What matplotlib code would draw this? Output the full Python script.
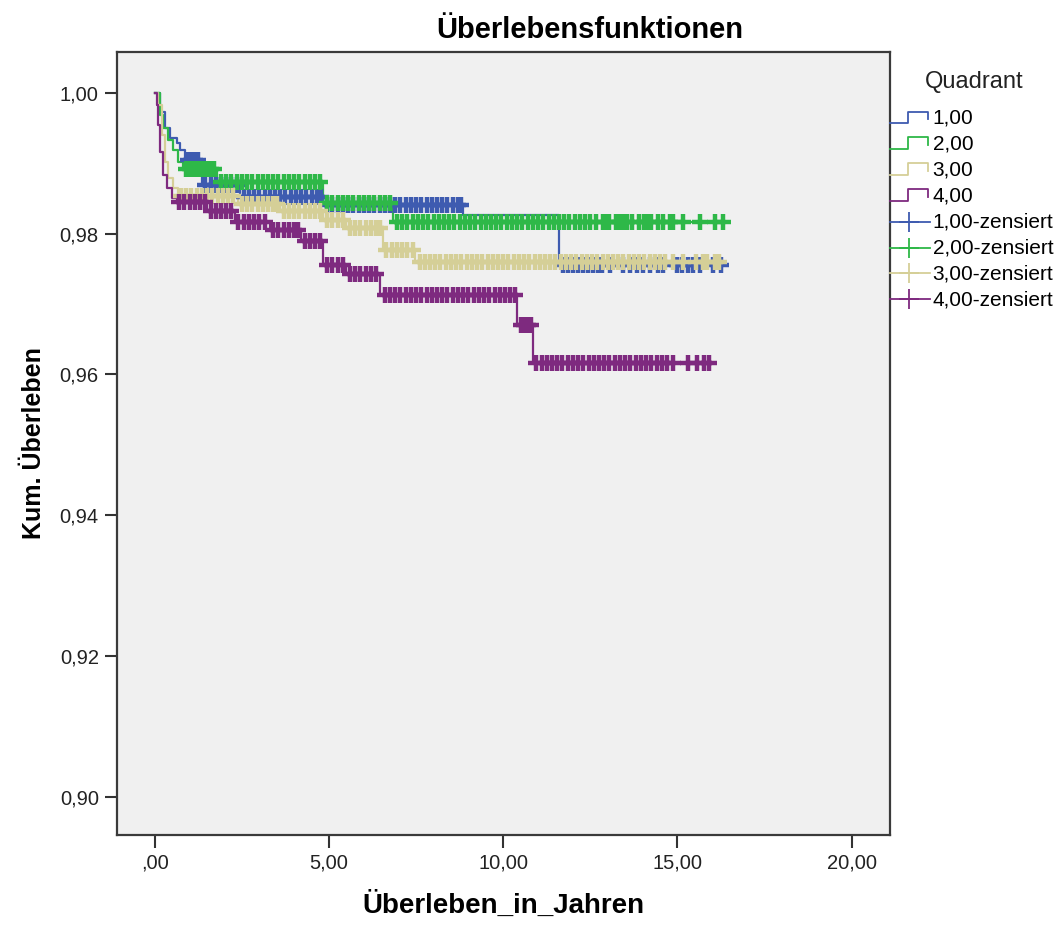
"""Kaplan-Meier Überlebensfunktionen nach Quadrant"""
import numpy as np
import matplotlib
matplotlib.use("Agg")
import matplotlib.pyplot as plt
from matplotlib.lines import Line2D
from matplotlib.legend_handler import HandlerBase

plt.rcParams['font.family'] = ['Liberation Sans', 'DejaVu Sans']

# Stufen der Überlebenskurven (Zeitpunkt, Überleben danach)
q1_times = [0, 0.14, 0.29, 0.43, 0.63, 0.72, 0.86, 1.35, 2.44, 4.83, 8.85, 11.6, 16.24]
q1_surv = [1.0, 0.9973, 0.9950, 0.9936, 0.9929, 0.9919, 0.9905, 0.9869, 0.9852,
           0.9841, 0.9827, 0.9756, 0.9756]
q2_times = [0, 0.14, 0.23, 0.37, 0.52, 0.66, 0.8, 1.78, 4.83, 6.84, 16.3]
q2_surv = [1.0, 0.9969, 0.9950, 0.9933, 0.9919, 0.9902, 0.9892, 0.9873, 0.9844,
           0.9816, 0.9816]
q3_times = [0, 0.09, 0.2, 0.29, 0.37, 0.52, 0.66, 2.4, 3.6, 4.83, 5.5, 6.55, 7.47, 16.2]
q3_surv = [1.0, 0.9983, 0.9940, 0.9902, 0.9879, 0.9865, 0.9853, 0.9842, 0.9832,
           0.9820, 0.9808, 0.9777, 0.9760, 0.9760]
q4_times = [0, 0.06, 0.09, 0.14, 0.23, 0.34, 0.49, 0.63, 1.5, 2.3, 3.3, 4.2, 4.83,
            5.5, 6.47, 10.4, 10.86, 15.9]
q4_surv = [1.0, 0.9983, 0.9955, 0.9916, 0.9884, 0.9865, 0.9851, 0.9845, 0.9832,
           0.9817, 0.9805, 0.9790, 0.9756, 0.9742, 0.9713, 0.9670, 0.9617, 0.9617]

# Zensierte Fälle (Zeitpunkte)
q1_censored = [0.95, 1.05, 1.15, 1.25,
               1.45, 1.6, 1.75, 1.9, 2.05, 2.2, 2.35,
               2.55, 2.7, 2.85, 3.0, 3.15, 3.3, 3.45, 3.6, 3.75, 3.9, 4.05, 4.2,
               4.35, 4.5, 4.65, 4.78,
               4.95, 5.1, 5.25, 5.4, 5.55, 5.7, 5.85, 6.0, 6.15, 6.3, 6.45, 6.6,
               6.75, 6.9, 7.05, 7.2, 7.35, 7.5, 7.65, 7.8, 7.95, 8.1, 8.25, 8.4,
               8.55, 8.7, 8.8,
               11.72, 11.87, 12.01, 12.16, 12.3, 12.44, 12.59, 12.73, 12.84, 13.07,
               13.45, 13.65, 13.85, 14.02, 14.22, 14.43, 14.6, 15.0, 15.14, 15.29,
               15.46, 15.66, 16.03, 16.24]
q2_censored = [0.9, 1.0, 1.1, 1.2, 1.3, 1.4, 1.5, 1.6, 1.7,
               1.9, 2.05, 2.2, 2.35, 2.5, 2.65, 2.8, 2.95, 3.1, 3.25, 3.4, 3.55,
               3.7, 3.85, 4.0, 4.15, 4.3, 4.45, 4.6, 4.75,
               4.95, 5.1, 5.25, 5.4, 5.55, 5.7, 5.85, 6.0, 6.15, 6.3, 6.45, 6.6, 6.75,
               6.95, 7.1, 7.25, 7.4, 7.55, 7.7, 7.85, 8.0, 8.15, 8.3, 8.45, 8.6,
               8.75, 8.9, 9.05, 9.2, 9.35, 9.5, 9.65, 9.8, 9.95, 10.1, 10.25, 10.4,
               10.55, 10.7, 10.85, 11.0, 11.15, 11.3, 11.45, 11.6, 11.75, 11.9,
               12.05, 12.2, 12.35, 12.5, 12.65,
               12.85, 12.95, 13.05, 13.25, 13.35, 13.45, 13.55, 13.7, 13.9, 14.05,
               14.15, 14.25, 14.45, 14.6, 14.8, 14.86, 15.17, 15.66, 16.09, 16.3]
q3_censored = [0.75, 0.9, 1.05, 1.2, 1.35, 1.5, 1.65, 1.8, 1.95, 2.1, 2.25,
               2.5, 2.65, 2.8, 2.95, 3.1, 3.25, 3.4, 3.5,
               3.7, 3.85, 4.0, 4.15, 4.3, 4.45, 4.6, 4.75,
               4.95, 5.1, 5.25, 5.4,
               5.6, 5.75, 5.9, 6.05, 6.2, 6.35, 6.45,
               6.65, 6.8, 6.95, 7.1, 7.25, 7.4,
               7.6, 7.75, 7.9, 8.05, 8.2, 8.35, 8.5, 8.65, 8.8, 8.95, 9.1, 9.25,
               9.4, 9.55, 9.7, 9.85, 10.0, 10.15, 10.3, 10.45, 10.6, 10.75, 10.9,
               11.05, 11.2, 11.35, 11.5, 11.65, 11.8, 11.95, 12.1, 12.25, 12.4,
               12.55, 12.7, 12.85, 13.0, 13.15, 13.3, 13.45, 13.6, 13.75, 13.9,
               14.05, 14.2, 14.35, 14.5, 14.65, 14.86, 15.17, 15.52, 15.72, 15.86,
               16.09, 16.2]
q4_censored = [0.7, 0.85, 1.0, 1.15, 1.3, 1.45,
               1.6, 1.75, 1.9, 2.05, 2.2,
               2.4, 2.55, 2.7, 2.85, 3.0, 3.15,
               3.4, 3.55, 3.7, 3.85, 4.0, 4.1,
               4.3, 4.45, 4.6, 4.75,
               4.95, 5.1, 5.25, 5.4,
               5.6, 5.75, 5.9, 6.05, 6.2, 6.35,
               6.6, 6.75, 6.9, 7.05, 7.2, 7.35, 7.5, 7.65, 7.8, 7.95, 8.1, 8.25,
               8.4, 8.55, 8.7, 8.85, 9.0, 9.15, 9.3, 9.45, 9.6, 9.75, 9.9, 10.05,
               10.2, 10.35,
               10.5, 10.6, 10.7, 10.8,
               10.95, 11.1, 11.25, 11.4, 11.55, 11.7, 11.85, 12.0, 12.15, 12.3,
               12.45, 12.6, 12.75, 12.9, 13.05, 13.2, 13.35, 13.5, 13.65, 13.8,
               13.95, 14.1, 14.25, 14.4, 14.55, 14.7, 14.86, 15.29, 15.57, 15.75,
               15.9]

group_labels = ["1,00", "2,00", "3,00", "4,00"]
group_colors = ["#3e5bb0", "#2eb848", "#d5cf97", "#7e2a7f"]

x_ticks = [0, 5, 10, 15, 20]
x_tick_labels = [",00", "5,00", "10,00", "15,00", "20,00"]
y_ticks = [0.90, 0.92, 0.94, 0.96, 0.98, 1.00]
y_tick_labels = ["0,90", "0,92", "0,94", "0,96", "0,98", "1,00"]


def survival_at(times, surv, t):
    """Überleben der Stufenfunktion zum Zeitpunkt t"""
    idx = np.searchsorted(times, t, side='right') - 1
    return np.asarray(surv)[idx]


class StepHandler(HandlerBase):
    """Stufen-Symbol für die Legende"""
    def create_artists(self, legend, orig_handle, xdescent, ydescent,
                       width, height, fontsize, trans):
        xs = np.array([0, 0.45, 0.45, 0.95, 0.95]) * width - xdescent
        ys = np.array([0.05, 0.05, 0.85, 0.85, 0.35]) * height - ydescent
        return [Line2D(xs, ys, color=orig_handle.get_color(), lw=1.3,
                       transform=trans)]


class CensorHandler(HandlerBase):
    """Linie mit Kreuz für zensierte Fälle"""
    def create_artists(self, legend, orig_handle, xdescent, ydescent,
                       width, height, fontsize, trans):
        yc = 0.4 * height - ydescent
        line = Line2D([-xdescent, width - xdescent], [yc, yc],
                      color=orig_handle.get_color(), lw=1.3, transform=trans)
        mark = Line2D([0.47 * width - xdescent], [yc], marker='+',
                      markersize=14, mew=1.3, color=orig_handle.get_color(),
                      transform=trans)
        return [line, mark]


fig = plt.figure(figsize=(10.62, 9.25), dpi=100)
ax = fig.add_axes([0.110, 0.0973, 0.728, 0.8465])
ax.set_facecolor('#f0f0f0')

all_times = [q1_times, q2_times, q3_times, q4_times]
all_surv = [q1_surv, q2_surv, q3_surv, q4_surv]
all_cens = [q1_censored, q2_censored, q3_censored, q4_censored]

step_handles = []
for times, surv, col in zip(all_times, all_surv, group_colors):
    h, = ax.step(times, surv, where='post', color=col, lw=1.6, zorder=2)
    step_handles.append(h)

cens_handles = []
for times, surv, cens, col in zip(all_times, all_surv, all_cens, group_colors):
    h, = ax.plot(cens, survival_at(times, surv, cens), ls='none', marker='+',
                 markersize=11.5, mew=3.2, color=col, zorder=3)
    cens_handles.append(h)

ax.set_xlim(-1.09, 21.1)
ax.set_ylim(0.8946, 1.0058)
ax.set_xticks(x_ticks)
ax.set_xticklabels(x_tick_labels)
ax.set_yticks(y_ticks)
ax.set_yticklabels(y_tick_labels)
ax.tick_params(direction='out', length=9, width=1.5, color='#333333',
               labelsize=14.5, labelcolor='#222222', pad=4)
for sp in ax.spines.values():
    sp.set_color('#3a3a3a')
    sp.set_linewidth(1.6)

ax.set_xlabel("Überleben_in_Jahren", fontsize=20, fontweight='bold', labelpad=14)
ax.set_ylabel("Kum. Überleben", fontsize=18, fontweight='bold', labelpad=10)
fig.text(0.555, 0.968, "Überlebensfunktionen", fontsize=21, fontweight='bold',
         ha='center', va='center')

# Legende mit eigenem Titel
fig.text(974 / 1062, 1 - 82 / 925, "Quadrant", fontsize=17, color='#222222',
         ha='center', va='center')
labels = group_labels + [g + "-zensiert" for g in group_labels]
handler_map = {h: StepHandler() for h in step_handles}
handler_map.update({h: CensorHandler() for h in cens_handles})
leg = fig.legend(step_handles + cens_handles, labels, handler_map=handler_map,
                 loc='upper left', bbox_to_anchor=(0.838, 1 - 109 / 925),
                 frameon=False, fontsize=15, handlelength=1.9,
                 handletextpad=0.15, labelspacing=0.33, borderpad=0,
                 borderaxespad=0)

fig.savefig("out.png", dpi=100)
